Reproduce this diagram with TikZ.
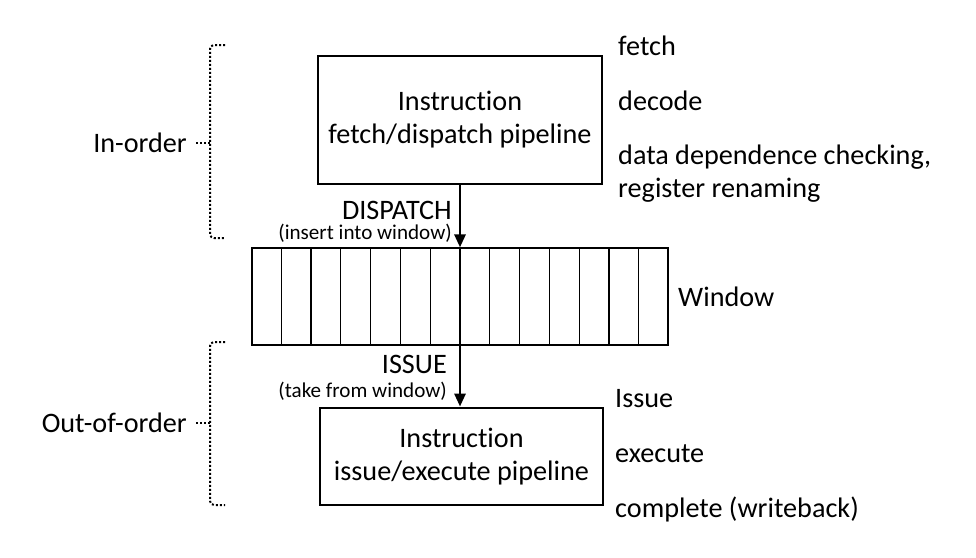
\documentclass[tikz,border=0pt]{standalone}
\usepackage{fontspec}
\setmainfont[Ligatures=CommonOff]{Carlito}
\usetikzlibrary{arrows.meta, calc}
\tikzset{
	stage/.style={draw, line width=2.8pt, align=center, inner sep=0pt},
	lbl/.style={font=\fontsize{28.2}{33}\selectfont, inner sep=0pt},
	small/.style={font=\fontsize{21.1}{25}\selectfont, inner sep=0pt},
	flow/.style={-{Triangle[length=13pt,width=11pt]}, line width=2.8pt},
	span/.style={dotted, line width=2pt, rounded corners=4pt},
}
\begin{document}
\begin{tikzpicture}[x=1pt, y=-1pt, lbl]
		\useasboundingbox (0, 0) rectangle (976, 557);

		% pipelines
		\node[stage, minimum width=284pt, minimum height=128pt] (fd) at (460, 120) {Instruction\\fetch/dispatch pipeline};
		\node[stage, minimum width=283pt, minimum height=97pt] (ie) at (461.5, 456.5) {Instruction\\issue/execute pipeline};

		% window
		\node[draw, line width=1.2pt, minimum width=416pt, minimum height=97pt, inner sep=0pt] (wnd) at (460, 296.5) {};
		\foreach \i in {1,...,13}
			\draw[line width=1.2pt] ($(wnd.north west)!\i/14!(wnd.north east)$) -- ($(wnd.south west)!\i/14!(wnd.south east)$);
		\node[anchor=west] (wlbl) at (678, 297) {Window};

		% arrows
		\draw[flow] (fd.south) -- (wnd.north);
		\draw[flow] (wnd.south) -- (ie.north -| wnd.south);
		\node[anchor=east] (disp) at (452, 210) {DISPATCH};
		\node[small, anchor=east] (dispnote) at (452, 233) {(insert into window)};
		\node[anchor=east] (iss) at (447, 364) {ISSUE};
		\node[small, anchor=east] (issnote) at (447, 391) {(take from window)};

		% stages
		\node[anchor=west] (s1) at (618, 46) {fetch};
		\node[anchor=west] (s2) at (618, 101) {decode};
		\node[anchor=west] (s3) at (618, 157) {data dependence checking,};
		\node[anchor=west] (s4) at (618, 190) {register renaming};
		\node[anchor=west] (s5) at (615, 399) {Issue};
		\node[anchor=west] (s6) at (615, 454) {execute};
		\node[anchor=west] (s7) at (615, 509) {complete (writeback)};

		% braces
		\draw[span] (225, 45) -- (210, 45) -- (210, 238) -- (225, 238);
		\draw[span] (196, 143) -- (210, 143);
		\draw[span] (225, 342) -- (210, 342) -- (210, 505) -- (225, 505);
		\draw[span] (196, 423) -- (210, 423);
		\node[anchor=east] (ino) at (187, 143) {In-order};
		\node[anchor=east] (ooo) at (187, 423) {Out-of-order};
	\end{tikzpicture}
\end{document}
